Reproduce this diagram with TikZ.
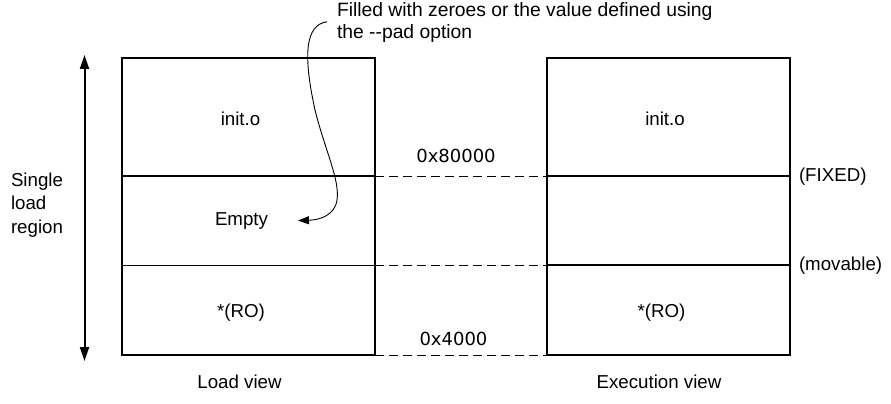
\documentclass[tikz,border=0pt]{standalone}
\usepackage{fontspec}
\setmainfont{Liberation Sans}
\newfontfamily\hexfont{DejaVu Sans}
\usetikzlibrary{arrows.meta}
\begin{document}
\begin{tikzpicture}[x=1pt,y=-1pt,
  every node/.style={font=\fontsize{18.7}{23.5}\selectfont, inner sep=0pt, outer sep=0pt},
  hex/.style={font=\hexfont\fontsize{18}{22}\selectfont},
  lsect/.style={minimum width=253pt, draw=none},
  rsect/.style={minimum width=243pt, draw=none},
  frame/.style={line width=2pt},
  divthick/.style={line width=2pt},
  divthin/.style={line width=1pt},
  dashline/.style={line width=1pt, dash pattern=on 9pt off 5pt},
  curvearrow/.style={line width=0.9pt, -{Triangle[length=11pt,width=8pt]}},
  dimarrow/.style={line width=2pt, {Triangle[length=14pt,width=9pt]}-{Triangle[length=14pt,width=9pt]}}
]
\useasboundingbox (0,0) rectangle (891,404);

% sections of the load view
\node[lsect, minimum height=118pt] (ltop) at (248.5,117) {};
\node[lsect, minimum height=89pt]  (lmid) at (248.5,220.5) {};
\node[lsect, minimum height=90pt]  (lbot) at (248.5,310) {};
% sections of the execution view
\node[rsect, minimum height=118pt] (rtop) at (668.5,117) {};
\node[rsect, minimum height=89pt]  (rmid) at (668.5,220.5) {};
\node[rsect, minimum height=90pt]  (rbot) at (668.5,310) {};

% frames and dividers
\draw[frame] (ltop.north west) rectangle (lbot.south east);
\draw[divthick] (lmid.north west) -- (lmid.north east);
\draw[divthin] (lbot.north west) -- (lbot.north east);
\draw[frame] (rtop.north west) rectangle (rbot.south east);
\draw[divthick] (rmid.north west) -- (rmid.north east);
\draw[divthick] (rbot.north west) -- (rbot.north east);

% dashed address lines
\draw[dashline] (lmid.north east) -- (rmid.north west);
\draw[dashline] (lbot.north east) -- (rbot.north west);
\draw[dashline] (lbot.south east) -- (rbot.south west);

% texts
\node[anchor=base] (linit) at (240.5,125) {init.o};
\node[anchor=base] (rinit) at (665,125) {init.o};
\node[anchor=base] (empty) at (241.5,225) {Empty};
\node[anchor=base] (lro) at (241,317) {*(RO)};
\node[anchor=base] (rro) at (661.5,317) {*(RO)};
\node[anchor=base] (lview) at (239.5,388) {Load view};
\node[anchor=base] (eview) at (659,388) {Execution view};
\node[anchor=base west] (fixed) at (799,181) {(FIXED)};
\node[anchor=base west] (movable) at (799,270) {(movable)};
\node[hex, anchor=base] (a80) at (456,162) {0x80000};
\node[hex, anchor=base] (a4) at (453.5,345) {0x4000};
\node[anchor=north west, align=left] (slr) at (11,172.5) {Single\\load\\region};
\node[anchor=north west, align=left, font=\fontsize{19.3}{21.5}\selectfont] (note) at (337,3)
  {Filled with zeroes or the value defined using\\the -\kern0pt-pad option};

% region extent arrow
\coordinate (atop) at (84.5,55);
\coordinate (abot) at (84.5,361);
\draw[dimarrow] (atop) -- (abot);

% annotation arrow
\draw[curvearrow] ([xshift=-10pt,yshift=1pt]note.west) .. controls (305,25) and (303,55) .. (315,110)
  .. controls (325,150) and (340,180) .. (337,200)
  .. controls (335,215) and (320,220) .. ([xshift=30pt]empty.east);
\end{tikzpicture}
\end{document}
